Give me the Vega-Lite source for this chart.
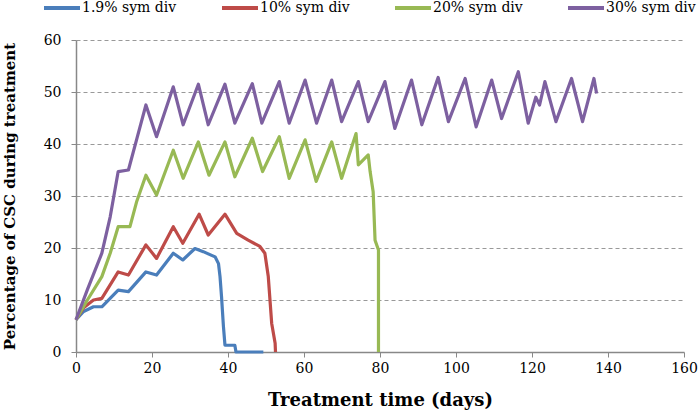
{
  "$schema": "https://vega.github.io/schema/vega-lite/v6.json",
  "width": 608,
  "height": 312,
  "autosize": {"type": "none"},
  "padding": {"left": 76, "top": 40, "right": 16, "bottom": 62},
  "background": "white",
  "config": {
    "view": {"stroke": null},
    "font": "DejaVu Serif"
  },
  "data": {
    "values": [
      {"s": "1.9% sym div", "x": 0, "y": 6.2},
      {"s": "1.9% sym div", "x": 2, "y": 7.8},
      {"s": "1.9% sym div", "x": 4.6, "y": 8.7},
      {"s": "1.9% sym div", "x": 6.8, "y": 8.7},
      {"s": "1.9% sym div", "x": 11.1, "y": 11.9},
      {"s": "1.9% sym div", "x": 13.8, "y": 11.6},
      {"s": "1.9% sym div", "x": 18.4, "y": 15.4},
      {"s": "1.9% sym div", "x": 21.2, "y": 14.8},
      {"s": "1.9% sym div", "x": 25.6, "y": 19.0},
      {"s": "1.9% sym div", "x": 28.1, "y": 17.7},
      {"s": "1.9% sym div", "x": 31.3, "y": 19.9},
      {"s": "1.9% sym div", "x": 33.5, "y": 19.3},
      {"s": "1.9% sym div", "x": 36.6, "y": 18.3},
      {"s": "1.9% sym div", "x": 37.5, "y": 17.0},
      {"s": "1.9% sym div", "x": 37.9, "y": 14.5},
      {"s": "1.9% sym div", "x": 38.3, "y": 10.6},
      {"s": "1.9% sym div", "x": 38.8, "y": 4.9},
      {"s": "1.9% sym div", "x": 39.2, "y": 1.3},
      {"s": "1.9% sym div", "x": 41.8, "y": 1.3},
      {"s": "1.9% sym div", "x": 42.1, "y": 0},
      {"s": "1.9% sym div", "x": 49.3, "y": 0},

      {"s": "10% sym div", "x": 0, "y": 6.2},
      {"s": "10% sym div", "x": 2, "y": 8.5},
      {"s": "10% sym div", "x": 4.6, "y": 10.0},
      {"s": "10% sym div", "x": 6.8, "y": 10.3},
      {"s": "10% sym div", "x": 11.1, "y": 15.4},
      {"s": "10% sym div", "x": 13.8, "y": 14.8},
      {"s": "10% sym div", "x": 18.4, "y": 20.6},
      {"s": "10% sym div", "x": 21.2, "y": 18.0},
      {"s": "10% sym div", "x": 25.6, "y": 24.1},
      {"s": "10% sym div", "x": 28.1, "y": 20.9},
      {"s": "10% sym div", "x": 32.4, "y": 26.5},
      {"s": "10% sym div", "x": 34.8, "y": 22.5},
      {"s": "10% sym div", "x": 39.2, "y": 26.5},
      {"s": "10% sym div", "x": 42.3, "y": 22.8},
      {"s": "10% sym div", "x": 45.3, "y": 21.5},
      {"s": "10% sym div", "x": 48.4, "y": 20.3},
      {"s": "10% sym div", "x": 49.7, "y": 19.0},
      {"s": "10% sym div", "x": 50.6, "y": 14.5},
      {"s": "10% sym div", "x": 51.5, "y": 5.5},
      {"s": "10% sym div", "x": 52.4, "y": 1.7},
      {"s": "10% sym div", "x": 52.5, "y": 0},

      {"s": "20% sym div", "x": 0, "y": 6.2},
      {"s": "20% sym div", "x": 3, "y": 10},
      {"s": "20% sym div", "x": 6.8, "y": 14.5},
      {"s": "20% sym div", "x": 9, "y": 19},
      {"s": "20% sym div", "x": 11.1, "y": 24.1},
      {"s": "20% sym div", "x": 14.2, "y": 24.1},
      {"s": "20% sym div", "x": 16, "y": 29},
      {"s": "20% sym div", "x": 18.4, "y": 34.0},
      {"s": "20% sym div", "x": 21.2, "y": 30.2},
      {"s": "20% sym div", "x": 25.6, "y": 38.8},
      {"s": "20% sym div", "x": 28.2, "y": 33.4},
      {"s": "20% sym div", "x": 32.2, "y": 40.4},
      {"s": "20% sym div", "x": 35, "y": 34},
      {"s": "20% sym div", "x": 39.2, "y": 40.4},
      {"s": "20% sym div", "x": 41.8, "y": 33.7},
      {"s": "20% sym div", "x": 46.4, "y": 41.1},
      {"s": "20% sym div", "x": 49.1, "y": 34.7},
      {"s": "20% sym div", "x": 53.5, "y": 41.4},
      {"s": "20% sym div", "x": 56.1, "y": 33.4},
      {"s": "20% sym div", "x": 60.3, "y": 40.8},
      {"s": "20% sym div", "x": 63.2, "y": 32.8},
      {"s": "20% sym div", "x": 67.3, "y": 40.4},
      {"s": "20% sym div", "x": 69.9, "y": 33.4},
      {"s": "20% sym div", "x": 73.7, "y": 42.0},
      {"s": "20% sym div", "x": 74.3, "y": 36},
      {"s": "20% sym div", "x": 76.9, "y": 37.9},
      {"s": "20% sym div", "x": 77.4, "y": 34.7},
      {"s": "20% sym div", "x": 78.2, "y": 30.8},
      {"s": "20% sym div", "x": 78.7, "y": 21.5},
      {"s": "20% sym div", "x": 79.6, "y": 19.6},
      {"s": "20% sym div", "x": 79.6, "y": 0},

      {"s": "30% sym div", "x": 0, "y": 6.2},
      {"s": "30% sym div", "x": 3, "y": 12},
      {"s": "30% sym div", "x": 6.8, "y": 19},
      {"s": "30% sym div", "x": 9, "y": 26},
      {"s": "30% sym div", "x": 11.1, "y": 34.7},
      {"s": "30% sym div", "x": 13.8, "y": 35},
      {"s": "30% sym div", "x": 16, "y": 41},
      {"s": "30% sym div", "x": 18.4, "y": 47.5},
      {"s": "30% sym div", "x": 21.2, "y": 41.4},
      {"s": "30% sym div", "x": 25.6, "y": 51.0},
      {"s": "30% sym div", "x": 28.2, "y": 43.7},
      {"s": "30% sym div", "x": 32.2, "y": 51.5},
      {"s": "30% sym div", "x": 34.8, "y": 43.7},
      {"s": "30% sym div", "x": 39.2, "y": 51.5},
      {"s": "30% sym div", "x": 41.8, "y": 44},
      {"s": "30% sym div", "x": 46.4, "y": 51.6},
      {"s": "30% sym div", "x": 48.9, "y": 44},
      {"s": "30% sym div", "x": 53.5, "y": 52},
      {"s": "30% sym div", "x": 56.1, "y": 44},
      {"s": "30% sym div", "x": 60.3, "y": 52.3},
      {"s": "30% sym div", "x": 63.3, "y": 44},
      {"s": "30% sym div", "x": 67.3, "y": 52.3},
      {"s": "30% sym div", "x": 69.9, "y": 44.3},
      {"s": "30% sym div", "x": 74.3, "y": 52},
      {"s": "30% sym div", "x": 76.9, "y": 44.3},
      {"s": "30% sym div", "x": 81.3, "y": 52},
      {"s": "30% sym div", "x": 83.9, "y": 43},
      {"s": "30% sym div", "x": 88.3, "y": 52.3},
      {"s": "30% sym div", "x": 91, "y": 43.7},
      {"s": "30% sym div", "x": 95.3, "y": 52.8},
      {"s": "30% sym div", "x": 98, "y": 44.3},
      {"s": "30% sym div", "x": 102.4, "y": 52.6},
      {"s": "30% sym div", "x": 105.3, "y": 43.3},
      {"s": "30% sym div", "x": 109.4, "y": 52.3},
      {"s": "30% sym div", "x": 112, "y": 44.9},
      {"s": "30% sym div", "x": 116.4, "y": 53.9},
      {"s": "30% sym div", "x": 119, "y": 44},
      {"s": "30% sym div", "x": 121, "y": 49},
      {"s": "30% sym div", "x": 122, "y": 47.5},
      {"s": "30% sym div", "x": 123.4, "y": 52},
      {"s": "30% sym div", "x": 126.3, "y": 44.3},
      {"s": "30% sym div", "x": 130.4, "y": 52.6},
      {"s": "30% sym div", "x": 133.3, "y": 44.3},
      {"s": "30% sym div", "x": 136.3, "y": 52.6},
      {"s": "30% sym div", "x": 137, "y": 49.7}
    ]
  },
  "mark": {"type": "line", "strokeWidth": 3.2, "strokeJoin": "round"},
  "encoding": {
    "x": {
      "field": "x", "type": "quantitative",
      "scale": {"domain": [0, 160], "nice": false},
      "axis": {
        "values": [0, 20, 40, 60, 80, 100, 120, 140, 160],
        "title": "Treatment time (days)",
        "titleFont": "DejaVu Serif", "titleFontSize": 18, "titleFontWeight": "bold", "titleColor": "#000",
        "titlePadding": 16,
        "labelFont": "DejaVu Serif", "labelFontSize": 14, "labelColor": "#000", "labelPadding": 4,
        "labelFlush": false,
        "grid": false, "domainColor": "#888", "domainWidth": 1.5, "tickColor": "#888", "tickSize": 5, "tickWidth": 1
      }
    },
    "y": {
      "field": "y", "type": "quantitative",
      "scale": {"domain": [0, 60], "nice": false},
      "axis": {
        "values": [0, 10, 20, 30, 40, 50, 60],
        "title": "Percentage of CSC during treatment",
        "titleFont": "DejaVu Serif", "titleFontSize": 15, "titleFontWeight": "bold", "titleColor": "#000",
        "titlePadding": 26,
        "labelFont": "DejaVu Serif", "labelFontSize": 14, "labelColor": "#000", "labelPadding": 10,
        "labelFlush": false,
        "grid": true, "gridColor": "#999", "gridDash": [4, 3], "gridWidth": 1,
        "domainColor": "#888", "domainWidth": 1.5, "tickColor": "#888", "tickSize": 5
      }
    },
    "color": {
      "field": "s", "type": "nominal",
      "scale": {
        "domain": ["1.9% sym div", "10% sym div", "20% sym div", "30% sym div"],
        "range": ["#4a7ebb", "#be4b48", "#98b954", "#7d60a0"]
      },
      "legend": {
        "title": null,
        "orient": "none",
        "legendX": -34,
        "legendY": -52,
        "direction": "horizontal",
        "columns": 4,
        "columnPadding": 37,
        "symbolType": "stroke",
        "symbolSize": 1296,
        "symbolStrokeWidth": 4,
        "labelFont": "DejaVu Serif",
        "labelFontSize": 14,
        "labelColor": "#000",
        "labelOffset": 0,
        "labelLimit": 300
      }
    },
    "order": {"value": null}
  }
}
